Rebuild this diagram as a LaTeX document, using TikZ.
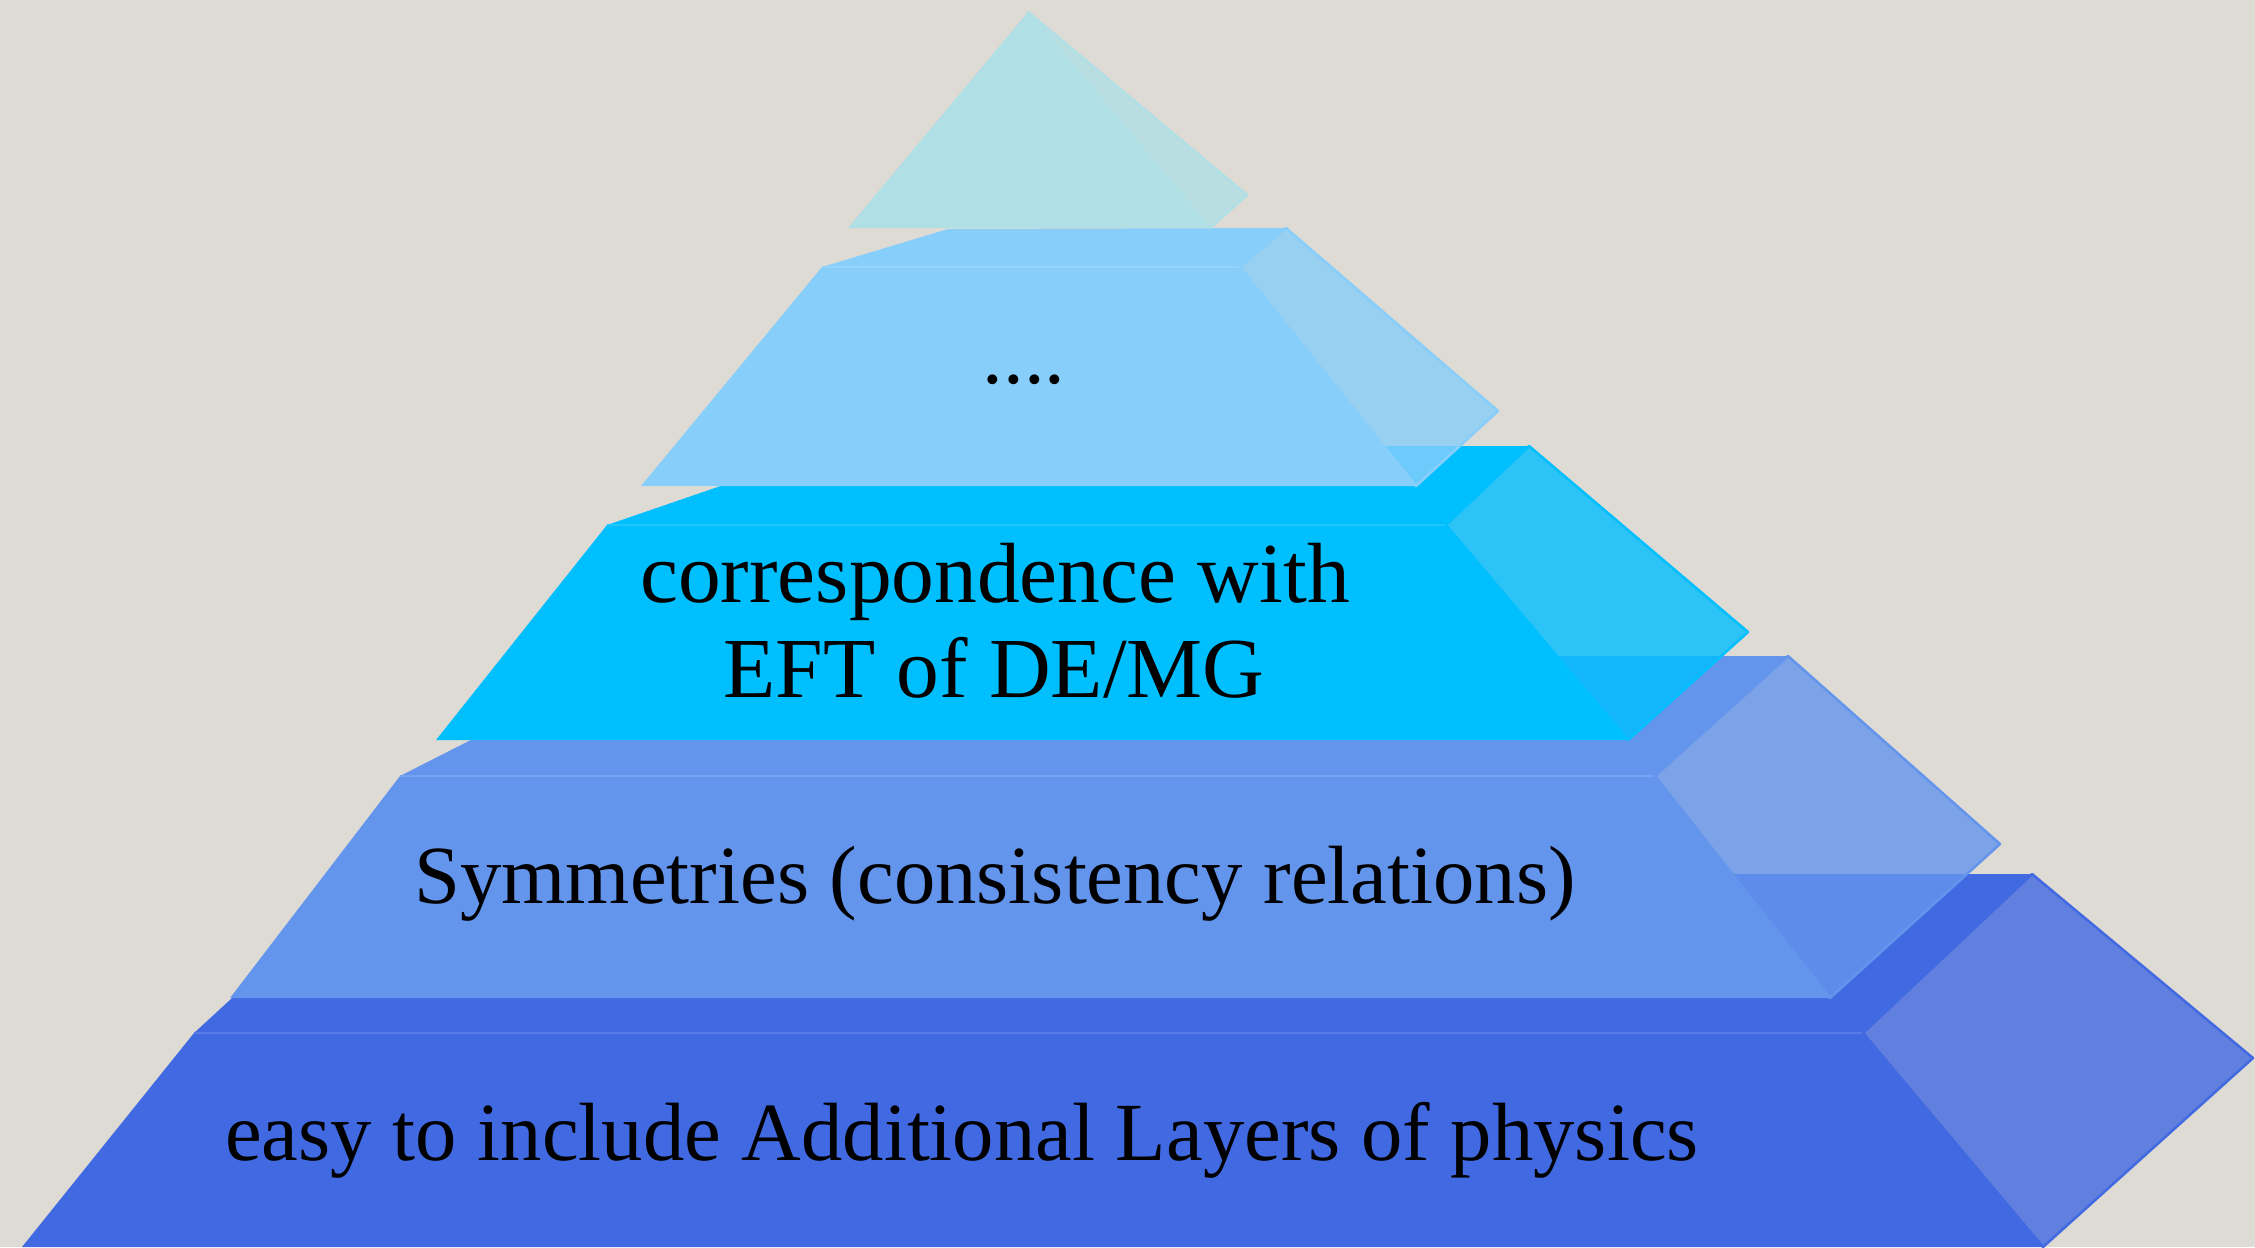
\documentclass[tikz,border=0pt]{standalone}
\usepackage{fontspec}
\setmainfont{Liberation Serif}
\definecolor{paper}{HTML}{DEDAD4}
\definecolor{tierone}{HTML}{B0E0E6}
\definecolor{tiertwo}{HTML}{87CEFA}
\definecolor{tierthree}{HTML}{00BFFF}
\definecolor{tierfour}{HTML}{6495ED}
\definecolor{tierfive}{HTML}{4169E1}

\begin{document}
\begin{tikzpicture}[
    x=0.01cm, y=-0.01cm,
    frontface/.style={fill=#1, draw=none},
    topface/.style={fill=#1, draw=none},
    seam/.style={draw=#1!88!white, line width=0.02cm},
    sideface/.style={fill=#1, fill opacity=0.8, draw=#1, line width=0.025cm, line join=round},
    tiertext/.style={font=\fontsize{23.5}{27}\selectfont, text=black, inner sep=0pt, anchor=base}
]

    % --- BACKGROUND ---
    \fill [paper] (0,0) rectangle (2255,1247);
    \useasboundingbox (0,0) rectangle (2255,1247);

    % --- TIER 5 (bottom) ---
    \fill [topface=tierfive] (194,1033) -- (367,874) -- (2032,874) -- (1863,1033) -- cycle;
    \fill [frontface=tierfive] (194,1033) -- (1863,1033) -- (2043,1247) -- (22,1247) -- cycle;
    \draw [seam=tierfive] (194,1033) -- (1863,1033);
    \filldraw [sideface=tierfive] (1863,1033) -- (2032,874) -- (2253,1058) -- (2043,1247) -- cycle;

    % --- TIER 4 ---
    \fill [topface=tierfour] (400,776) -- (636,656) -- (1788,656) -- (1655,776) -- cycle;
    \fill [frontface=tierfour] (400,776) -- (1655,776) -- (1830,998) -- (230,998) -- cycle;
    \draw [seam=tierfour] (400,776) -- (1655,776);
    \filldraw [sideface=tierfour] (1655,776) -- (1788,656) -- (2000,844) -- (1830,998) -- cycle;

    % --- TIER 3 ---
    \fill [topface=tierthree] (607,525) -- (837,446) -- (1529,446) -- (1446,525) -- cycle;
    \fill [frontface=tierthree] (607,525) -- (1446,525) -- (1628,740) -- (436,740) -- cycle;
    \draw [seam=tierthree] (607,525) -- (1446,525);
    \filldraw [sideface=tierthree] (1446,525) -- (1529,446) -- (1748,632) -- (1628,740) -- cycle;

    % --- TIER 2 ---
    \fill [topface=tiertwo] (822,267) -- (948,229) -- (1286,228) -- (1240,267) -- cycle;
    \fill [frontface=tiertwo] (822,267) -- (1240,267) -- (1416,486) -- (641,486) -- cycle;
    \draw [seam=tiertwo] (822,267) -- (1240,267);
    \filldraw [sideface=tiertwo] (1240,267) -- (1286,228) -- (1498,411) -- (1416,486) -- cycle;

    % --- TIER 1 (apex) ---
    \fill [frontface=tierone] (1028,12) -- (848,228) -- (1210,228) -- cycle;
    \filldraw [sideface=tierone] (1028,12) -- (1247,195) -- (1210,228) -- cycle;

    % --- LABELS ---
    \node [tiertext] (dots) at (1024,383) {....};
    \node [tiertext, font=\fontsize{24.3}{28}\selectfont] (corrtop) at (995,602) {correspondence with};
    \node [tiertext, font=\fontsize{24.3}{28}\selectfont] (corrbot) at (994,697) {EFT of DE/MG};
    \node [tiertext] (symm) at (995,903) {Symmetries (consistency relations)};
    \node [tiertext] (easy) at (962,1160) {easy to include Additional Layers of physics};

\end{tikzpicture}
\end{document}
